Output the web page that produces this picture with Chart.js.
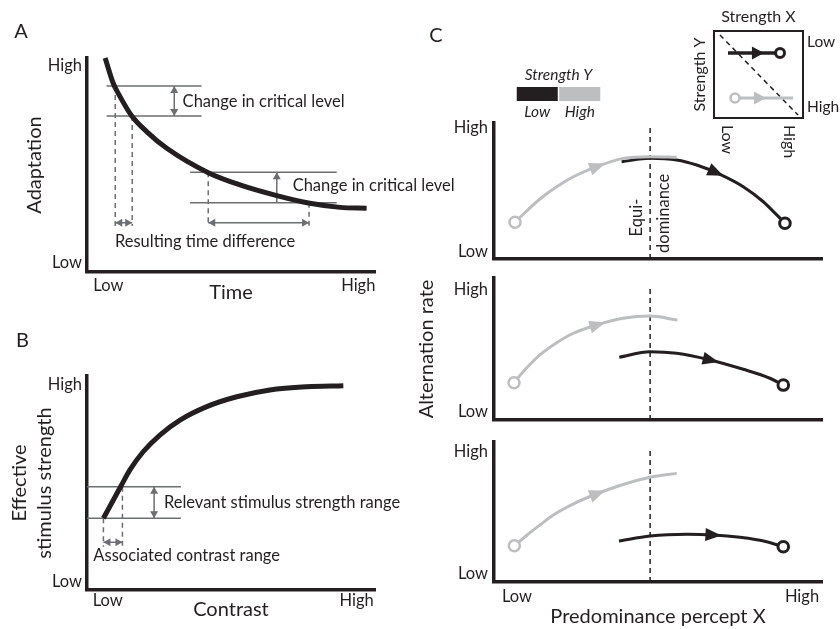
<!DOCTYPE html>
<html><head><meta charset="utf-8">
<script src="https://cdn.jsdelivr.net/npm/chart.js@4.4.1/dist/chart.umd.min.js"></script>
<style>
html,body{margin:0;padding:0;background:#fff;}
#wrap{position:relative;width:840px;height:629px;overflow:hidden;background:#fff;}
canvas{position:absolute;}
</style></head><body>
<div id="wrap">
<canvas id="cA" width="470" height="305" style="left:0px;top:0px"></canvas>
<canvas id="cB" width="470" height="319" style="left:0px;top:310px"></canvas>
<canvas id="c1" width="435" height="290" style="left:405px;top:0px"></canvas>
<canvas id="c2" width="435" height="200" style="left:405px;top:250px"></canvas>
<canvas id="c3" width="435" height="219" style="left:405px;top:410px"></canvas>
<canvas id="cInset" width="160" height="170" style="left:680px;top:0px"></canvas>
<canvas id="cLegend" width="120" height="70" style="left:500px;top:55px"></canvas>
</div>
<script>
// ---------------- DATA ----------------
const axisWords = ['Low', 'High'];

// Panel A: adaptation vs time
const timeA  = [6.3, 9.1, 10.8, 15.5, 20.7, 27.7, 42.1, 53.1, 65.9, 77.4, 87.8, 97.1];
const adaptA = [100, 88.2, 83.6, 73.0, 65.6, 57.8, 46.4, 40.7, 35.7, 32.1, 30.2, 29.8];
const critLevelsA = [86.9, 72.9, 46.6, 32.4];
const critTimesA  = [9.8, 15.7, 42.1, 77.1];
const spanStartA  = [6.8, 6.8, 35.8, 35.8];
const spanEndA    = [39.8, 39.8, 86.7, 86.7];
const levelArrowXA = [30.3, 65.9];
const timeDiffYA = 23.0;
const dashBottomA = 21.5;
const xTicksA = [7.4, 94.2];
const yTicksA = [4.3, 96.4];

// Panel B: effective stimulus strength vs contrast
const contrastB = [5.7, 11.8, 14.9, 19.5, 25.3, 32.3, 41.6, 52.0, 63.5, 76.3, 89.0];
const strengthB = [33.5, 48.6, 56.1, 64.6, 72.4, 79.4, 85.7, 90.3, 93.5, 95.0, 95.5];
const rangeLevelsB = [33.5, 48.3];
const rangeContrastB = [5.7, 12.3];
const rangeLineEndB = 32.6;
const rangeArrowXB = 23.3;
const contrastArrowYB = 22.3;
const dashBottomB = 20.2;
const xTicksB = [7.2, 93.6];
const yTicksB = [3.9, 96.1];

// Panel C: alternation rate vs predominance (three conditions)
const c1GrayX  = [6.4, 8.9, 14.0, 19.1, 24.2, 31.3, 39.4, 47.6, 55.7];
const c1GrayY  = [27.0, 32.9, 44.1, 53.2, 60.5, 67.9, 74.0, 75.2, 74.8];
const c1BlackX = [38.9, 47.6, 55.7, 61.8, 68.9, 76.0, 82.1, 86.2, 88.7];
const c1BlackY = [71.5, 74.0, 72.8, 69.1, 62.3, 53.2, 42.1, 32.4, 26.3];

const c2GrayX  = [6.1, 8.9, 14.0, 19.1, 24.2, 31.3, 39.4, 47.6, 55.9];
const c2GrayY  = [26.3, 34.0, 45.8, 54.4, 61.1, 66.9, 71.6, 73.2, 70.4];
const c2BlackX = [38.2, 47.6, 55.7, 65.9, 76.0, 84.1, 88.2];
const c2BlackY = [44.2, 48.1, 47.0, 42.3, 35.7, 29.4, 24.6];

const c3GrayX  = [6.2, 10.1, 14.0, 18.1, 24.7, 31.8, 38.4, 47.6, 55.7];
const c3GrayY  = [25.9, 33.6, 40.7, 47.9, 56.4, 63.4, 68.9, 74.8, 77.6];
const c3BlackX = [38.1, 47.6, 58.8, 66.9, 75.0, 83.1, 88.2];
const c3BlackY = [29.3, 32.9, 34.1, 33.6, 31.9, 28.8, 25.2];

const equiDominanceX = 47.6;
const equiTops = [97.0, 93.7, 94.3];
const grayArrowX  = [31.6, 31.6, 31.6];
const blackArrowX = [67.7, 66.1, 66.9];
const cXTicks  = [7.0, 93.9];
const c1YTicks = [5.4, 96.3];
const c2YTicks = [5.8, 91.5];
const c3YTicks = [6.2, 92.9];

// Inset (Strength X / Strength Y)
const insetDiagX  = [6.7, 94.4];
const insetDiagY  = [95.4, 3.4];
const insetBlackX = [15.7, 74.2];
const insetBlackY = [74.7, 74.7];
const insetGrayX  = [23.6, 88.8];
const insetGrayY  = [23.0, 23.0];
const insetArrowX = [51.7, 49.4];
const insetYTicks = [12.6, 87.4];
const insetYWords = ['High', 'Low'];

// Legend (Strength Y)
const legendLabels = ['Low', 'High'];
const legendValues = [1, 1];

// ---------------- STYLE ----------------
const BLACK = '#231f20', GRAY = '#bcbec0', DGRAY = '#6d6e71', FONT = 'Lato';
Chart.defaults.font.family = FONT;
Chart.defaults.color = BLACK;

const TEXTS = {
  cA: [
    {t:'A', x:-22.9, y:112.3, size:20, align:'center'},
    {t:'Change in critical level', x:33.2, y:79.6},
    {t:'Change in critical level', x:71.4, y:40.2},
    {t:'Resulting time difference', x:9.7, y:14.2}
  ],
  cB: [
    {t:'B', x:-22.4, y:116.4, size:20, align:'center'},
    {t:'Relevant stimulus strength range', x:26.7, y:40.8},
    {t:'Associated contrast range', x:2.2, y:16.0}
  ],
  c1: [
    {t:'C', x:-17.7, y:164.3, size:20, align:'center'},
    {t:'Equi-', x:43.6, y:30.5, size:16.5, align:'center', rot:-90},
    {t:'dominance', x:51.8, y:33.6, size:16.5, align:'center', rot:-90}
  ],
  cInset: [
    {t:'Low', x:14.6, y:-8, size:16, rot:90},
    {t:'High', x:84.3, y:-8, size:16, rot:90}
  ]
};

// ---------------- HELPERS ----------------
const zip = (xs, ys) => xs.map((x, i) => ({x: x, y: ys[i]}));
const line = (xs, ys, o) => Object.assign({data: zip(xs, ys), borderColor: BLACK, borderWidth: 1.5,
  pointRadius: 0, fill: false, clip: false, tension: 0}, o);
const curve = (xs, ys, o) => line(xs, ys, Object.assign({cubicInterpolationMode: 'monotone', borderWidth: 3}, o));
const circleAt = (idx, r) => (c => c.dataIndex === idx ? r : 0);

function drawHead(ctx, tx, ty, dx, dy, L, W, color) {
  const bx = tx - dx * L, by = ty - dy * L, px = -dy, py = dx;
  ctx.save(); ctx.fillStyle = color; ctx.beginPath();
  ctx.moveTo(tx, ty); ctx.lineTo(bx + px * W, by + py * W); ctx.lineTo(bx - px * W, by - py * W);
  ctx.closePath(); ctx.fill(); ctx.restore();
}
function curveAt(pts, xp) {
  for (let i = 0; i < pts.length - 1; i++) {
    const a = pts[i], b = pts[i + 1];
    if ((xp - a.x) * (xp - b.x) <= 0) {
      const hasCp = a.cp2x !== undefined && b.cp1x !== undefined;
      const p1 = hasCp ? {x: a.cp2x, y: a.cp2y} : {x: a.x, y: a.y};
      const p2 = hasCp ? {x: b.cp1x, y: b.cp1y} : {x: b.x, y: b.y};
      const B = (t, k) => { const u = 1 - t; return u*u*u*a[k] + 3*u*u*t*p1[k] + 3*u*t*t*p2[k] + t*t*t*b[k]; };
      let lo = 0, hi = 1; const s = a.x < b.x ? 1 : -1;
      for (let j = 0; j < 40; j++) { const m = (lo + hi) / 2; if ((B(m, 'x') - xp) * s < 0) lo = m; else hi = m; }
      const t = (lo + hi) / 2, e = 1e-3, t0 = Math.max(0, t - e), t1 = Math.min(1, t + e);
      const dx = B(t1, 'x') - B(t0, 'x'), dy = B(t1, 'y') - B(t0, 'y'), len = Math.hypot(dx, dy) || 1;
      return {x: B(t, 'x'), y: B(t, 'y'), dx: dx / len, dy: dy / len};
    }
  }
  return null;
}
const decoPlugin = {
  id: 'deco',
  afterDatasetsDraw(chart) {
    const ctx = chart.ctx;
    chart.data.datasets.forEach((ds, di) => {
      const pts = chart.getDatasetMeta(di).data;
      if (!pts || pts.length < 2) return;
      const color = ds.headColor || ds.borderColor;
      const L = ds.headLen || 7, W = ds.headHalf || 4;
      if (ds.arrowAt !== undefined) {
        const r = curveAt(pts, chart.scales.x.getPixelForValue(ds.arrowAt));
        if (r) drawHead(ctx, r.x + r.dx * L / 2, r.y + r.dy * L / 2, r.dx, r.dy, L, W, color);
      }
      if (ds.heads) {
        const n = pts.length;
        if (ds.heads.indexOf('end') >= 0) {
          const a = pts[n - 2], b = pts[n - 1]; const len = Math.hypot(b.x - a.x, b.y - a.y) || 1;
          drawHead(ctx, b.x, b.y, (b.x - a.x) / len, (b.y - a.y) / len, L, W, color);
        }
        if (ds.heads.indexOf('start') >= 0) {
          const a = pts[1], b = pts[0]; const len = Math.hypot(b.x - a.x, b.y - a.y) || 1;
          drawHead(ctx, b.x, b.y, (b.x - a.x) / len, (b.y - a.y) / len, L, W, color);
        }
      }
    });
  },
  afterDraw(chart) {
    const ctx = chart.ctx;
    (TEXTS[chart.canvas.id] || []).forEach(t => {
      const px = chart.scales.x.getPixelForValue(t.x), py = chart.scales.y.getPixelForValue(t.y);
      ctx.save(); ctx.translate(px, py); if (t.rot) ctx.rotate(t.rot * Math.PI / 180);
      ctx.font = (t.style || 'normal') + ' ' + (t.size || 16.5) + 'px ' + FONT;
      ctx.fillStyle = t.color || BLACK; ctx.textAlign = t.align || 'left'; ctx.textBaseline = 'middle';
      ctx.fillText(t.t, 0, 0); ctx.restore();
    });
  }
};
Chart.register(decoPlugin);

function xAxis(tickVals, height, tickPad, title, titlePad) {
  return {
    type: 'linear', min: 0, max: 100, position: 'bottom',
    grid: {display: false, drawTicks: false},
    border: {display: true, width: 3.5, color: BLACK},
    afterFit: s => { s.height = height; },
    afterBuildTicks: s => { if (tickVals) s.ticks = tickVals.map(v => ({value: v})); },
    ticks: {display: !!tickVals, autoSkip: false, maxRotation: 0, minRotation: 0, padding: tickPad || 0,
      font: {size: 16.5}, color: BLACK, callback: (v, i) => axisWords[i]},
    title: title ? {display: true, text: title, font: {size: 20}, color: BLACK, padding: {top: 0, bottom: titlePad || 0}} : {display: false}
  };
}
function yAxis(tickVals, width, tickPad, title, titlePad, lh) {
  return {
    type: 'linear', min: 0, max: 100, position: 'left',
    grid: {display: false, drawTicks: false},
    border: {display: true, width: 3.5, color: BLACK},
    afterFit: s => { s.width = width; },
    afterBuildTicks: s => { s.ticks = tickVals.map(v => ({value: v})); },
    ticks: {autoSkip: false, padding: tickPad, font: {size: 16.5}, color: BLACK, callback: (v, i) => axisWords[i]},
    title: title ? {display: true, text: title, font: {size: 20, lineHeight: lh || 1.2}, color: BLACK, padding: {top: titlePad, bottom: 0}} : {display: false}
  };
}
function opts(padding, scales) {
  return {
    responsive: false, animation: false, devicePixelRatio: 1, events: [],
    layout: {padding: padding, autoPadding: false},
    plugins: {legend: {display: false}, tooltip: {enabled: false}, title: {display: false}},
    scales: scales
  };
}

// ---------------- PANEL A ----------------
new Chart(document.getElementById('cA'), {
  type: 'line',
  data: {datasets: [
    curve(timeA, adaptA, {borderWidth: 5}),
    ...critLevelsA.map((lv, i) => line([spanStartA[i], spanEndA[i]], [lv, lv], {borderColor: DGRAY})),
    line([levelArrowXA[0], levelArrowXA[0]], [critLevelsA[1], critLevelsA[0]], {borderColor: DGRAY, heads: ['start', 'end']}),
    line([levelArrowXA[1], levelArrowXA[1]], [critLevelsA[3], critLevelsA[2]], {borderColor: DGRAY, heads: ['end']}),
    ...critTimesA.map((t, i) => line([t, t], [critLevelsA[i], dashBottomA], {borderColor: DGRAY, borderDash: [5, 4]})),
    line([critTimesA[0], critTimesA[1]], [timeDiffYA, timeDiffYA], {borderColor: DGRAY, heads: ['start', 'end']}),
    line([critTimesA[2], critTimesA[3]], [timeDiffYA, timeDiffYA], {borderColor: DGRAY, heads: ['start', 'end']})
  ]},
  options: opts({left: 0, top: 58, right: 95, bottom: 0}, {
    x: xAxis(xTicksA, 33, 4, 'Time', 0),
    y: yAxis(yTicksA, 87, 5, 'Adaptation', 23)
  })
});

// ---------------- PANEL B ----------------
new Chart(document.getElementById('cB'), {
  type: 'line',
  data: {datasets: [
    curve(contrastB, strengthB, {borderWidth: 5}),
    ...rangeLevelsB.map(lv => line([0, rangeLineEndB], [lv, lv], {borderColor: DGRAY})),
    line([rangeArrowXB, rangeArrowXB], [rangeLevelsB[0], rangeLevelsB[1]], {borderColor: DGRAY, heads: ['start', 'end']}),
    ...rangeContrastB.map((c, i) => line([c, c], [rangeLevelsB[i], dashBottomB], {borderColor: DGRAY, borderDash: [5, 4]})),
    line([rangeContrastB[0], rangeContrastB[1]], [contrastArrowYB, contrastArrowYB], {borderColor: DGRAY, heads: ['start', 'end']})
  ]},
  options: opts({left: 0, top: 66, right: 95, bottom: 0}, {
    x: xAxis(xTicksB, 39, 1, 'Contrast', 7),
    y: yAxis(yTicksB, 87, 5, ['Effective', 'stimulus strength'], 7.5, 1.25)
  })
});

// ---------------- PANEL C ----------------
function cDatasets(gx, gy, bx, by, k) {
  return [
    curve(gx, gy, {borderColor: GRAY, borderWidth: 3, arrowAt: grayArrowX[k], headLen: 16, headHalf: 6.5,
      pointRadius: circleAt(0, 5.5), pointBackgroundColor: '#fff', pointBorderColor: GRAY, pointBorderWidth: 2.5}),
    curve(bx, by, {borderColor: BLACK, borderWidth: 3, arrowAt: blackArrowX[k], headLen: 16, headHalf: 6.5,
      pointRadius: circleAt(bx.length - 1, 5.3), pointBackgroundColor: '#fff', pointBorderColor: BLACK, pointBorderWidth: 3}),
    line([equiDominanceX, equiDominanceX], [0, equiTops[k]], {borderColor: BLACK, borderWidth: 1.5, borderDash: [5, 4]})
  ];
}
new Chart(document.getElementById('c1'), {
  type: 'line',
  data: {datasets: cDatasets(c1GrayX, c1GrayY, c1BlackX, c1BlackY, 0)},
  options: opts({left: 0, top: 123, right: 18, bottom: 20}, {
    x: xAxis(null, 11, 0, null, 0),
    y: yAxis(c1YTicks, 89, 6, null, 0)
  })
});
new Chart(document.getElementById('c2'), {
  type: 'line',
  data: {datasets: cDatasets(c2GrayX, c2GrayY, c2BlackX, c2BlackY, 1)},
  options: opts({left: 0, top: 28, right: 18, bottom: 20}, {
    x: xAxis(null, 10, 0, null, 0),
    y: yAxis(c2YTicks, 89, 6, 'Alternation rate', 10)
  })
});
new Chart(document.getElementById('c3'), {
  type: 'line',
  data: {datasets: cDatasets(c3GrayX, c3GrayY, c3BlackX, c3BlackY, 2)},
  options: opts({left: 0, top: 32, right: 18, bottom: 0}, {
    x: xAxis(cXTicks, 47, 5, 'Predominance percept X', 0),
    y: yAxis(c3YTicks, 89, 6, null, 0)
  })
});

// ---------------- INSET ----------------
const boxBorder = {display: true, width: 2, color: BLACK};
new Chart(document.getElementById('cInset'), {
  type: 'line',
  data: {datasets: [
    line(insetGrayX, insetGrayY, {borderColor: GRAY, borderWidth: 3, arrowAt: insetArrowX[0], headLen: 12, headHalf: 6.5,
      pointRadius: circleAt(0, 4.5), pointBackgroundColor: '#fff', pointBorderColor: GRAY, pointBorderWidth: 2.5}),
    line(insetBlackX, insetBlackY, {borderColor: BLACK, borderWidth: 3.5, arrowAt: insetArrowX[1], headLen: 12, headHalf: 6.5,
      pointRadius: circleAt(1, 4.5), pointBackgroundColor: '#fff', pointBorderColor: BLACK, pointBorderWidth: 3}),
    line(insetDiagX, insetDiagY, {borderColor: BLACK, borderWidth: 1.5, borderDash: [5, 4]})
  ]},
  options: opts({left: 0, top: 0, right: 0, bottom: 0}, {
    x: {type: 'linear', min: 0, max: 100, position: 'bottom', grid: {display: false, drawTicks: false}, border: boxBorder,
        ticks: {display: false}, afterFit: s => { s.height = 52; }},
    xTop: {type: 'linear', min: 0, max: 100, position: 'top', grid: {display: false, drawTicks: false}, border: boxBorder,
        ticks: {display: false}, afterFit: s => { s.height = 31; },
        title: {display: true, text: 'Strength X', font: {size: 16}, color: BLACK, padding: {top: 7, bottom: 0}}},
    y: {type: 'linear', min: 0, max: 100, position: 'left', grid: {display: false, drawTicks: false}, border: boxBorder,
        ticks: {display: false}, afterFit: s => { s.width = 34; },
        title: {display: true, text: 'Strength Y', font: {size: 16}, color: BLACK, padding: {top: 10, bottom: 0}}},
    yRight: {type: 'linear', min: 0, max: 100, position: 'right', grid: {display: false, drawTicks: false}, border: boxBorder,
        afterFit: s => { s.width = 37; },
        afterBuildTicks: s => { s.ticks = insetYTicks.map(v => ({value: v})); },
        ticks: {autoSkip: false, padding: 4, font: {size: 15.5}, color: BLACK, callback: (v, i) => insetYWords[i]}}
  })
});

// ---------------- LEGEND ----------------
new Chart(document.getElementById('cLegend'), {
  type: 'bar',
  data: {labels: legendLabels, datasets: [{data: legendValues, backgroundColor: [BLACK, GRAY], borderWidth: 0,
    barPercentage: 0.965, categoryPercentage: 1}]},
  options: opts({left: 16, top: 0, right: 19, bottom: 0}, {
    x: {type: 'category', position: 'bottom', grid: {display: false, drawTicks: false}, border: {display: false},
        ticks: {font: {size: 15.5, style: 'italic'}, padding: 2, color: BLACK}, afterFit: s => { s.height = 24; }},
    xTop: {type: 'linear', min: 0, max: 1, position: 'top', grid: {display: false, drawTicks: false}, border: {display: false},
        ticks: {display: false}, afterFit: s => { s.height = 32; },
        title: {display: true, text: 'Strength Y', font: {size: 15.5, style: 'italic'}, color: BLACK, padding: {top: 10.7, bottom: 0}}},
    y: {display: false, min: 0, max: 1}
  })
});
</script>
</body></html>
